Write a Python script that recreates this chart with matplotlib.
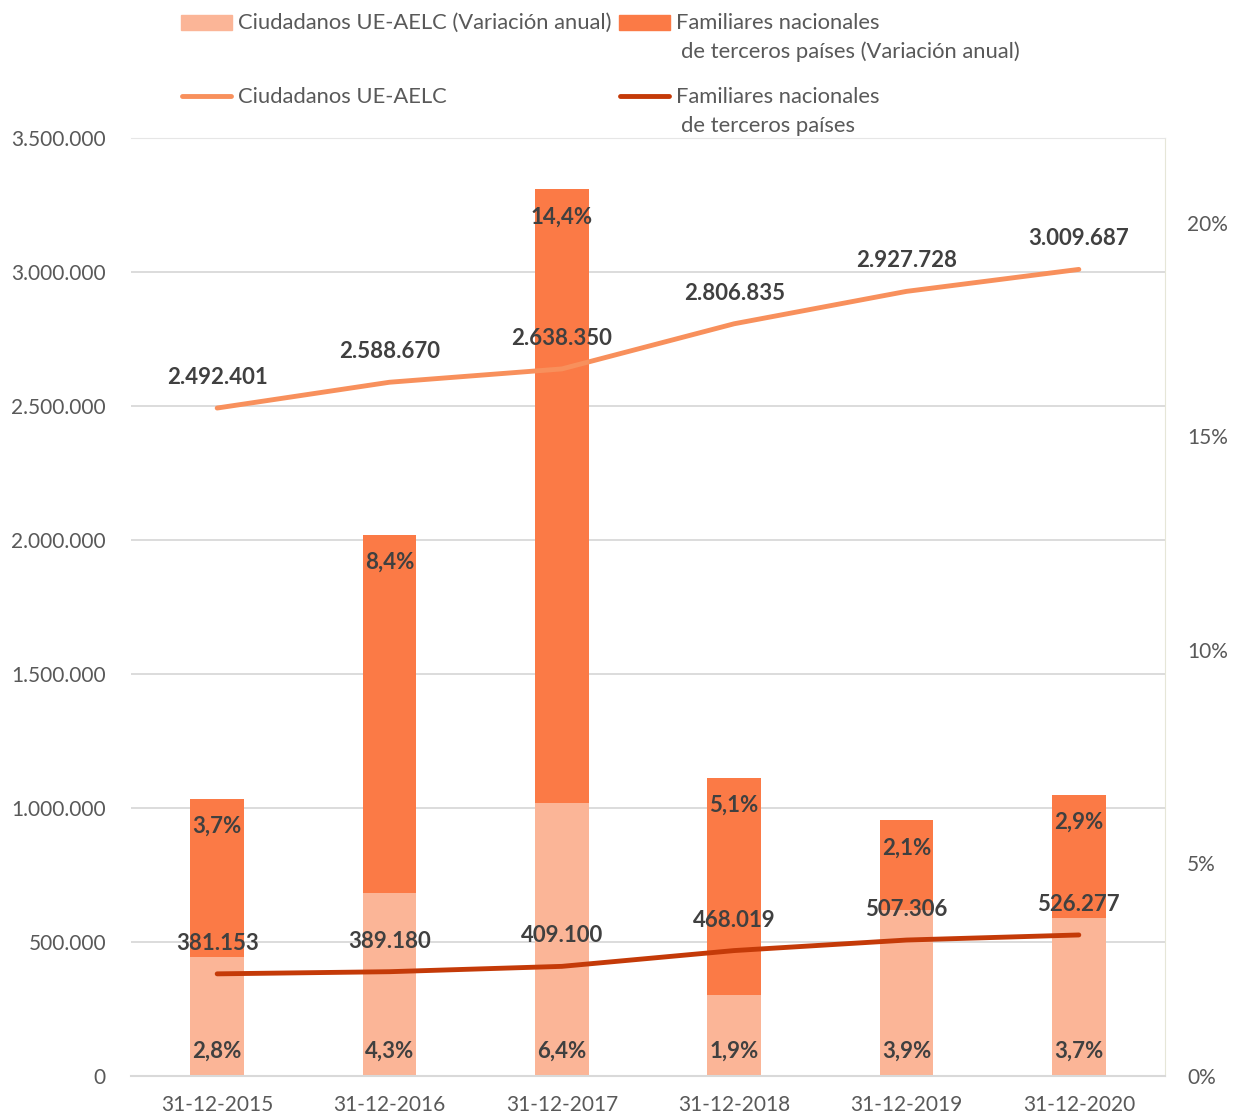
import matplotlib
matplotlib.use("Agg")
import matplotlib.pyplot as plt
from matplotlib.patches import Rectangle
from matplotlib.lines import Line2D
import numpy as np

plt.rcParams['font.family'] = ['Lato', 'DejaVu Sans']

dates = ["31-12-2015", "31-12-2016", "31-12-2017", "31-12-2018", "31-12-2019", "31-12-2020"]
pct_ue = [2.8, 4.3, 6.4, 1.9, 3.9, 3.7]
pct_fam = [3.7, 8.4, 14.4, 5.1, 2.1, 2.9]
pct_ue_lbl = ["2,8%", "4,3%", "6,4%", "1,9%", "3,9%", "3,7%"]
pct_fam_lbl = ["3,7%", "8,4%", "14,4%", "5,1%", "2,1%", "2,9%"]
ciud_ue = [2492401, 2588670, 2638350, 2806835, 2927728, 3009687]
fam_nac = [381153, 389180, 409100, 468019, 507306, 526277]

c_light = "#FBB597"
c_dark = "#FB7A46"
c_line1 = "#F8905C"
c_line2 = "#C43A08"
txt = "#404040"
tick_c = "#595959"

def fmt_thousands(v):
    return f"{int(v):,}".replace(",", ".")

W, H = 1233, 1117
fig = plt.figure(figsize=(W / 100, H / 100), dpi=100)
L, R, T, B = 131, 1165, 138, 1076
axb = fig.add_axes([L / W, 1 - B / H, (R - L) / W, (B - T) / H])
x = np.arange(len(dates))

LMAX = 3500000
RMAX = 22.0
axb.set_xlim(-0.5, len(dates) - 0.5)
axb.set_ylim(0, RMAX)

left_ticks = np.arange(0, LMAX + 1, 500000)
for v in left_ticks[1:]:
    axb.axhline(v / LMAX * RMAX, color="#D9D9D9", lw=1.3, zorder=0)

bw = 0.31
axb.bar(x, pct_ue, width=bw, color=c_light, zorder=2)
axb.bar(x, pct_fam, width=bw, bottom=pct_ue, color=c_dark, zorder=2)

lbl_fs = 16
for i in range(len(x)):
    axb.annotate(pct_ue_lbl[i], (x[i], 0), xytext=(0, 17.5), textcoords="offset points",
                 ha="center", va="center", fontsize=lbl_fs, fontweight="bold", color=txt, zorder=5)
    axb.annotate(pct_fam_lbl[i], (x[i], pct_ue[i] + pct_fam[i]), xytext=(0, -20),
                 textcoords="offset points", ha="center", va="center", fontsize=lbl_fs,
                 fontweight="bold", color=txt, zorder=5)

axb.set_xticks(x)
axb.set_xticklabels(dates)
axb.tick_params(axis="x", length=0, labelsize=15, labelcolor=tick_c, pad=14)

axb.spines["left"].set_visible(False)
axb.spines["top"].set_color("#E6E6E6")
axb.spines["right"].set_color("#E6E6D8")
axb.spines["bottom"].set_color("#D9D9D9")
axb.spines["bottom"].set_linewidth(1.5)

axl = axb.twinx()
axl.set_ylim(0, LMAX)
axl.set_yticks(left_ticks)
axl.set_yticklabels([fmt_thousands(v) for v in left_ticks])
axl.yaxis.tick_left()
axl.tick_params(axis="y", length=0, labelsize=15, labelcolor=tick_c, pad=18)
for s in axl.spines.values():
    s.set_visible(False)

axb.yaxis.tick_right()
axb.set_yticks([0, 5, 10, 15, 20])
axb.set_yticklabels(["0%", "5%", "10%", "15%", "20%"])
axb.tick_params(axis="y", length=0, labelsize=15, labelcolor=tick_c, pad=16)

axl.plot(x, ciud_ue, color=c_line1, lw=3.5, solid_capstyle="round", zorder=3)
axl.plot(x, fam_nac, color=c_line2, lw=3.5, solid_capstyle="round", zorder=3)
for i in range(len(x)):
    axl.annotate(fmt_thousands(ciud_ue[i]), (x[i], ciud_ue[i]), xytext=(0, 22),
                 textcoords="offset points", ha="center", va="center", fontsize=lbl_fs,
                 fontweight="bold", color=txt)
    axl.annotate(fmt_thousands(fam_nac[i]), (x[i], fam_nac[i]), xytext=(0, 22),
                 textcoords="offset points", ha="center", va="center", fontsize=lbl_fs,
                 fontweight="bold", color=txt)

# manual legend
def fx(px): return px / W
def fy(py): return 1 - py / H
fig.patches.append(Rectangle((fx(181), fy(30)), fx(232) - fx(181), 15 / H, color=c_light, transform=fig.transFigure))
fig.patches.append(Rectangle((fx(619), fy(30)), fx(670) - fx(619), 15 / H, color=c_dark, transform=fig.transFigure))
fig.lines.append(Line2D([fx(182), fx(231)], [fy(96), fy(96)], color=c_line1, lw=3.5, solid_capstyle="round", transform=fig.transFigure))
fig.lines.append(Line2D([fx(620), fx(669)], [fy(96), fy(96)], color=c_line2, lw=3.5, solid_capstyle="round", transform=fig.transFigure))
lk = dict(fontsize=15.8, color=tick_c, va="center", ha="left")
fig.text(fx(238), fy(23), "Ciudadanos UE-AELC (Variación anual)", **lk)
fig.text(fx(676), fy(23), "Familiares nacionales", **lk)
fig.text(fx(681), fy(52), "de terceros países (Variación anual)", **lk)
fig.text(fx(238), fy(97), "Ciudadanos UE-AELC", **lk)
fig.text(fx(676), fy(97), "Familiares nacionales", **lk)
fig.text(fx(681), fy(126), "de terceros países", **lk)

fig.savefig("out.png", dpi=100)
